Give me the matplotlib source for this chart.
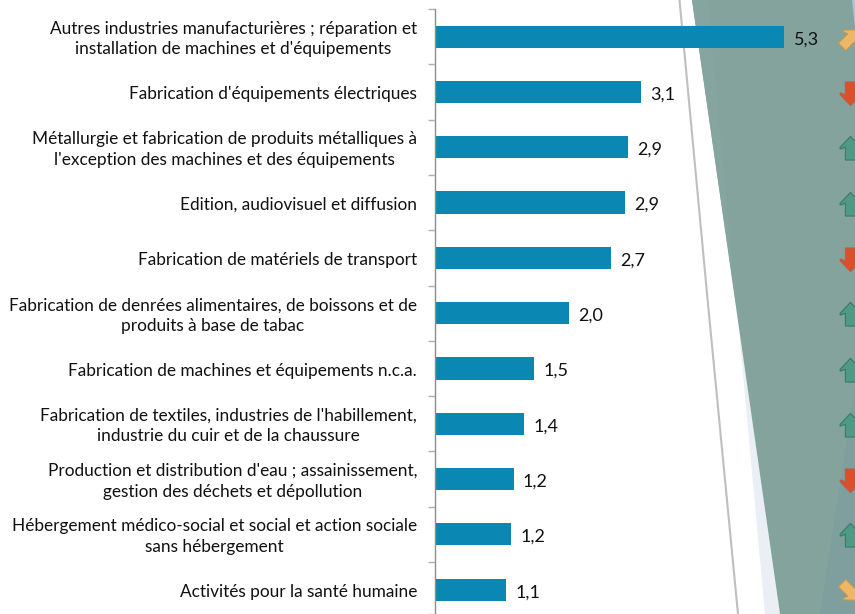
import matplotlib
matplotlib.use("Agg")
import matplotlib.pyplot as plt
from matplotlib.path import Path
from matplotlib.patches import Polygon
from matplotlib.transforms import Affine2D, ScaledTranslation

plt.rcParams['font.family'] = ['Lato', 'DejaVu Sans']

categories = [
    "Autres industries manufacturières ; réparation et\ninstallation de machines et d'équipements",
    "Fabrication d'équipements électriques",
    "Métallurgie et fabrication de produits métalliques à\nl'exception des machines et des équipements",
    "Edition, audiovisuel et diffusion",
    "Fabrication de matériels de transport",
    "Fabrication de denrées alimentaires, de boissons et de\nproduits à base de tabac",
    "Fabrication de machines et équipements n.c.a.",
    "Fabrication de textiles, industries de l'habillement,\nindustrie du cuir et de la chaussure",
    "Production et distribution d'eau ; assainissement,\ngestion des déchets et dépollution",
    "Hébergement médico-social et social et action sociale\nsans hébergement",
    "Activités pour la santé humaine",
]
values = [5.3, 3.13, 2.93, 2.89, 2.67, 2.04, 1.51, 1.36, 1.2, 1.16, 1.08]
value_labels = ["5,3", "3,1", "2,9", "2,9", "2,7", "2,0", "1,5", "1,4", "1,2", "1,2", "1,1"]
trends = ["upright", "down", "up", "up", "down", "up", "up", "up", "down", "up", "downright"]

W, H = 855, 614
fig = plt.figure(figsize=(W / 100, H / 100), dpi=100, facecolor="white")

# decorative slide background, in pixel coordinates
bg = fig.add_axes([0, 0, 1, 1], zorder=0)
bg.set_xlim(0, W)
bg.set_ylim(H, 0)
bg.axis("off")
bg.add_patch(Polygon([(738, 320), (780, 614), (765, 614)], closed=True, fc="#e9eff5", ec="none"))
bg.add_patch(Polygon([(692, 0), (855, 0), (855, 614), (780, 614)], closed=True, fc="#84a39d", ec="none"))
bg.add_patch(Polygon([(692, 0), (708, 0), (736, 304)], closed=True, fc="#86a5a0", ec="none"))
bg.add_patch(Polygon([(855, 387), (855, 614), (820, 614)], closed=True, fc="#7f9f9f", ec="none"))
bg.add_patch(Polygon([(852, 0), (855, 0), (855, 28)], closed=True, fc="#a9c3d3", ec="none"))
bg.plot([679.5, 708, 738], [0, 304, 614], color="#bfbfbf", lw=1.5, solid_capstyle="butt")

# main chart
x0 = 434.5
px_per_unit = 66.0
ax = fig.add_axes([x0 / W, 0, (W - x0) / W, (H - 9) / H], zorder=1)
ax.patch.set_alpha(0)
ax.set_xlim(0, (W - x0) / px_per_unit)
ax.set_ylim(10.44, -0.5)

positions = list(range(len(categories)))
ax.barh(positions, values, height=0.4, color="#0b87b3", edgecolor="none")

for s in ["top", "right", "bottom"]:
    ax.spines[s].set_visible(False)
ax.spines["left"].set_color("#8c8c8c")
ax.spines["left"].set_linewidth(1.0)
ax.set_xticks([])

ax.set_yticks([p - 0.5 for p in positions] + [10.5 - 0.06], minor=True)
ax.set_yticks(positions)
ax.set_yticklabels(categories, fontsize=12.45, color="#111111", ha="right",
                   multialignment="center", linespacing=1.36)
ax.tick_params(axis="y", which="major", length=0, pad=17.5 * 72 / 100)
ax.tick_params(axis="y", which="minor", length=7 * 72 / 100, width=1.0, color="#b0b0b0")
for lab in ax.get_yticklabels():
    dy = 1.5 if "\n" in lab.get_text() else -1
    lab.set_transform(lab.get_transform() + ScaledTranslation(0, dy / 100, fig.dpi_scale_trans))

for p, v, t in zip(positions, values, value_labels):
    ax.annotate(t, (v, p), xytext=(6.7, -1.8), textcoords="offset points",
                ha="left", va="center", fontsize=13, color="#111111")

# trend arrows
arrow = [(0, 1), (0.85, 0.1), (0.85, -0.05), (0.42, 0.1), (0.42, -0.95),
         (-0.42, -0.95), (-0.42, 0.1), (-0.85, -0.05), (-0.85, 0.1), (0, 1)]
styles = {
    "up": (0, "#4f9a85", "#3a7a68"),
    "down": (180, "#d9502b", "#b8604a"),
    "upright": (-45, "#eeb665", "#b79a5f"),
    "downright": (-135, "#eeb665", "#b79a5f"),
}
arrow_x = (849.5 - x0) / px_per_unit
for p, t in zip(positions, trends):
    angle, fc, ec = styles[t]
    path = Path(arrow, closed=True).transformed(Affine2D().rotate_deg(angle))
    ax.plot([arrow_x], [p + 0.02], marker=path, ms=17.5, mfc=fc, mec=ec, mew=0.8,
            ls="none", clip_on=False, zorder=3)

fig.savefig("out.png", dpi=100, facecolor="white")
